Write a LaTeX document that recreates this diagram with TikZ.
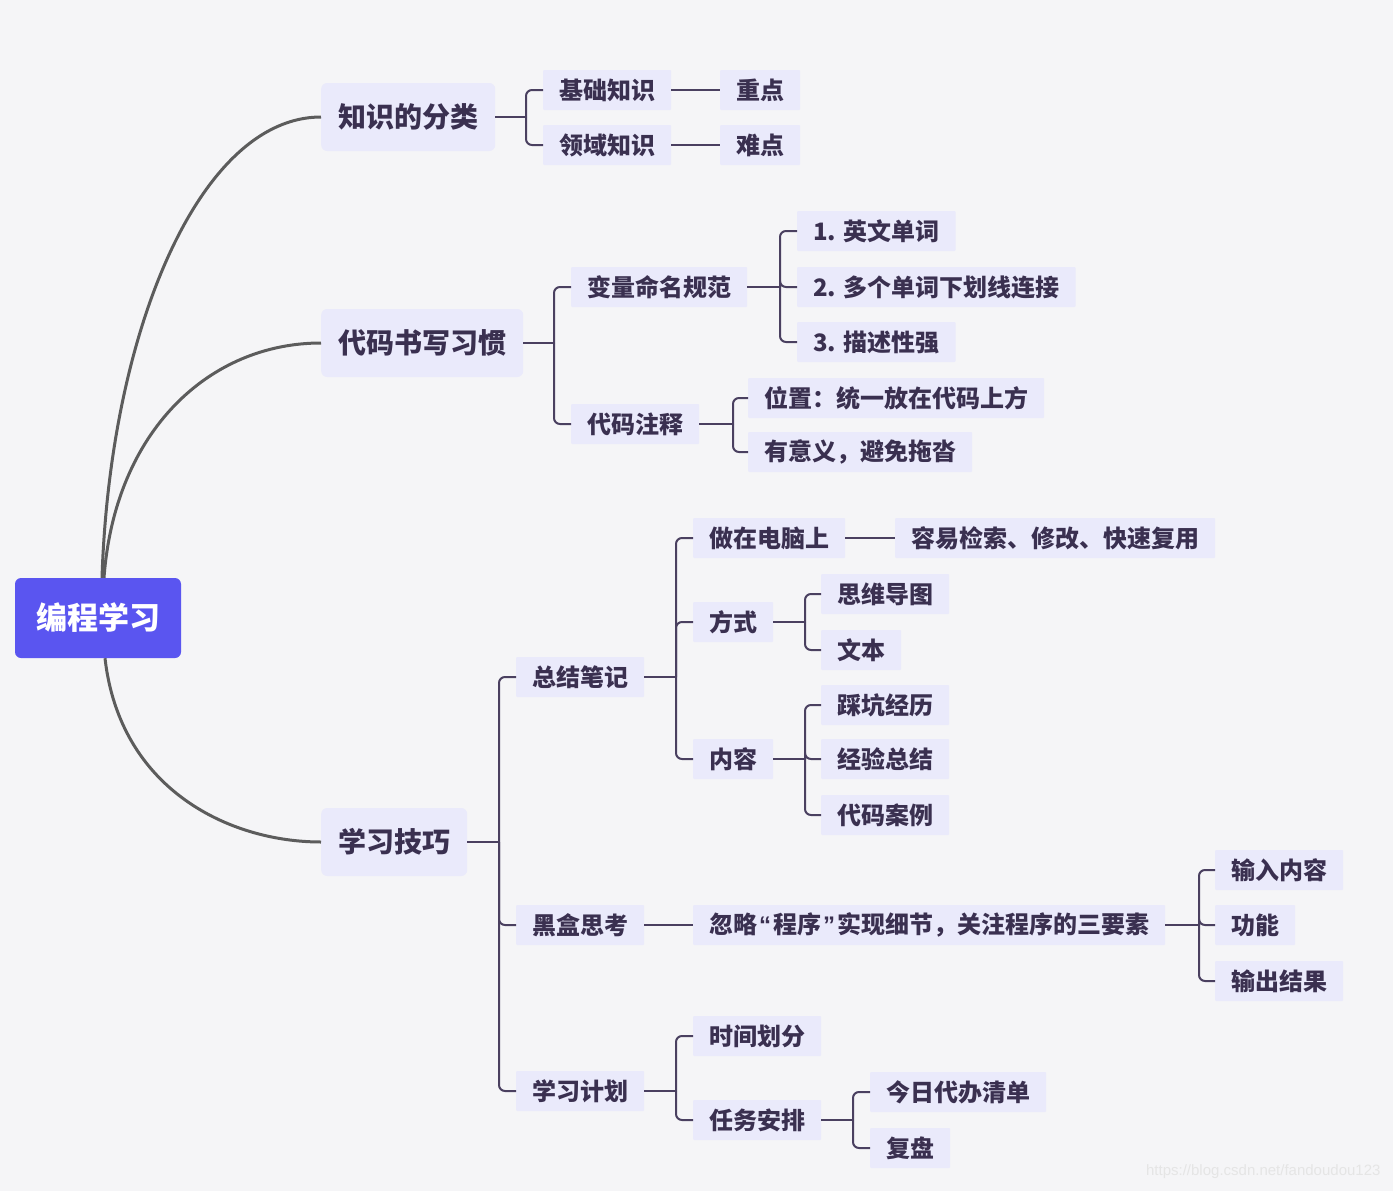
\documentclass[tikz,border=0pt]{standalone}
\usepackage{fontspec}
\setmainfont{Noto Sans CJK SC}
\newfontfamily\wmfont{Liberation Sans}
\usetikzlibrary{calc}
\definecolor{bgc}{HTML}{F5F5F7}
\definecolor{boxc}{HTML}{EAEAFB}
\definecolor{rootc}{HTML}{5A55F0}
\definecolor{txt}{HTML}{3A3050}
\definecolor{curvec}{HTML}{5C5C5C}
\definecolor{brc}{HTML}{4A4060}
\newcommand\brk[3]{%
  \path let \p1=(#1.east) in coordinate (#1-j) at (#2pt,\y1);
  \draw[br] (#1.east) -- (#1-j);
  \foreach \c in {#3}{\draw[br,rounded corners=6] (#1-j) |- (\c.west);}}
\newcommand\myLq{\hspace{2pt}{\wmfont\bfseries “}\hspace{2pt}}
\newcommand\myRq{\hspace{2pt}{\wmfont\bfseries ”}\hspace{2pt}}
\begin{document}
\begin{tikzpicture}[x=1pt,y=-1pt,
  box/.style={fill=boxc, text=txt, font=\fontsize{24}{28}\selectfont\bfseries, minimum height=40, inner xsep=16, inner ysep=0, anchor=west, rounded corners=1},
  mainbox/.style={box, font=\fontsize{28}{32}\selectfont\bfseries, minimum height=68, inner xsep=17, rounded corners=6},
  rootbox/.style={fill=rootc, text=white, font=\fontsize{31}{35}\selectfont\bfseries, minimum height=80, inner xsep=21, rounded corners=6},
  br/.style={draw=brc, line width=2},
  rc/.style={draw=curvec, line width=3}]
\fill[bgc] (0,0) rectangle (1393,1191);
\node[rootbox] (root) at (98,618) {编程学习};
\node[mainbox] (k1) at (321,117) {知识的分类};
\node[mainbox] (k2) at (321,343) {代码书写习惯};
\node[mainbox] (k3) at (321,842) {学习技巧};
\node[box] (a1) at (543,90) {基础知识};
\node[box] (a2) at (543,145) {领域知识};
\node[box] (a1a) at (720,90) {重点};
\node[box] (a2a) at (720,145) {难点};
\node[box] (b1) at (571,287) {变量命名规范};
\node[box] (b11) at (797,231) {1. 英文单词};
\node[box] (b12) at (797,287) {2. 多个单词下划线连接};
\node[box] (b13) at (797,342) {3. 描述性强};
\node[box] (b2) at (571,424) {代码注释};
\node[box] (b21) at (748,398) {位置：统一放在代码上方};
\node[box] (b22) at (748,452) {有意义，避免拖沓};
\node[box] (c1) at (516,677) {总结笔记};
\node[box] (c11) at (693,538) {做在电脑上};
\node[box] (c111) at (895,538) {容易检索、修改、快速复用};
\node[box] (c12) at (693,622) {方式};
\node[box] (c121) at (821,594) {思维导图};
\node[box] (c122) at (821,650) {文本};
\node[box] (c13) at (693,759) {内容};
\node[box] (c131) at (821,705) {踩坑经历};
\node[box] (c132) at (821,759) {经验总结};
\node[box] (c133) at (821,815) {代码案例};
\node[box] (c2) at (516,925) {黑盒思考};
\node[box] (c21) at (693,925) {忽略\myLq 程序\myRq 实现细节，关注程序的三要素};
\node[box] (c211) at (1215,870) {输入内容};
\node[box] (c212) at (1215,925) {功能};
\node[box] (c213) at (1215,981) {输出结果};
\node[box] (c3) at (516,1091) {学习计划};
\node[box] (c31) at (693,1036) {时间划分};
\node[box] (c32) at (693,1120) {任务安排};
\node[box] (c321) at (870,1092) {今日代办清单};
\node[box] (c322) at (870,1148) {复盘};
% root curves
\draw[rc] ($(root.north)+(4,0)$) .. controls (110,330) and (200,117) .. (k1.west);
\draw[rc] ($(root.north)+(6,0)$) .. controls (115,430) and (210,343) .. (k2.west);
\draw[rc] ($(root.south)+(7,0)$) .. controls (120,790) and (230,842) .. (k3.west);
% brackets
\brk{k1}{526}{a1,a2}
\brk{k2}{554}{b1,b2}
\brk{b1}{780}{b11,b12,b13}
\brk{b2}{733}{b21,b22}
\brk{k3}{499}{c1,c2,c3}
\brk{c1}{676}{c11,c12,c13}
\brk{c12}{805}{c121,c122}
\brk{c13}{805}{c131,c132,c133}
\brk{c21}{1199}{c211,c212,c213}
\brk{c3}{676}{c31,c32}
\brk{c32}{853}{c321,c322}
\draw[br] (a1.east) -- (a1a.west);
\draw[br] (a2.east) -- (a2a.west);
\draw[br] (c11.east) -- (c111.west);
\draw[br] (c2.east) -- (c21.west);
\node[font=\wmfont\fontsize{15}{15}\selectfont, text=black!10, anchor=east] (wm) at (1384,1172) {https://blog.csdn.net/fandoudou123};
\end{tikzpicture}
\end{document}
